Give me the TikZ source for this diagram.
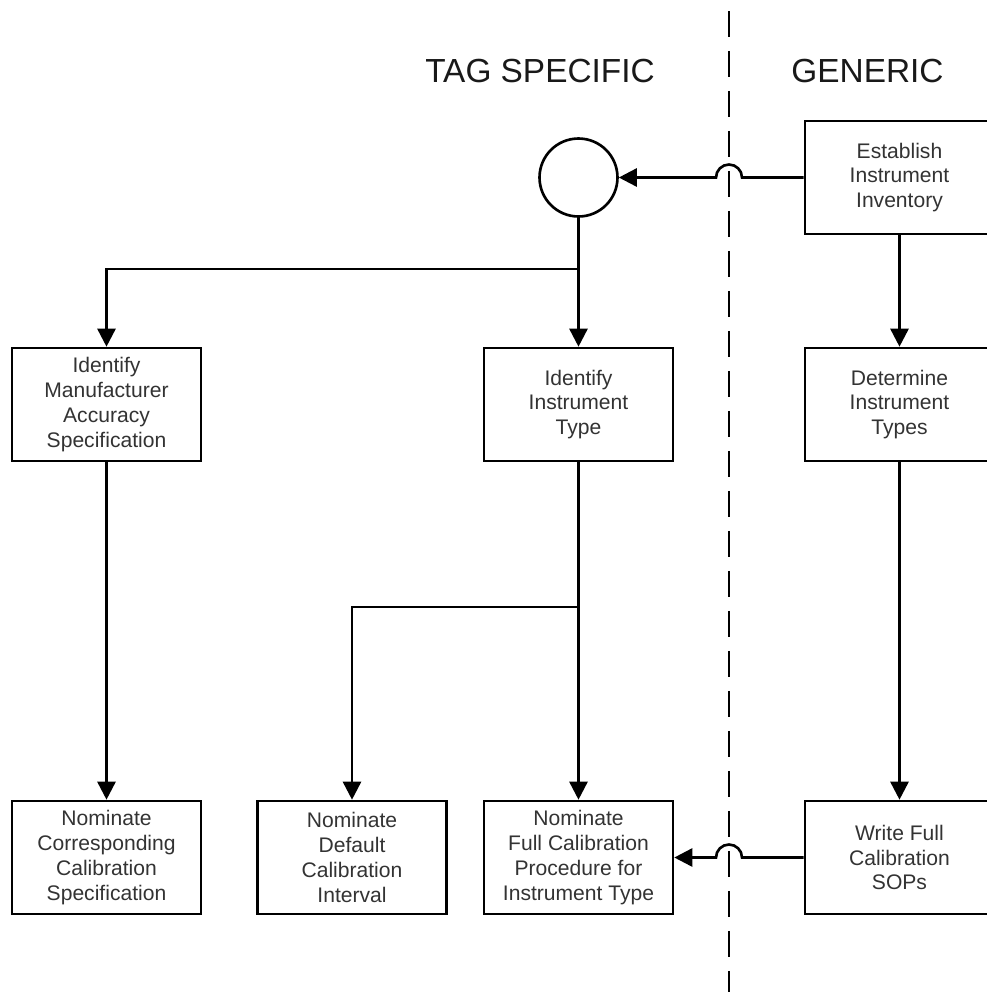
\documentclass[tikz,border=0pt]{standalone}
\usepackage{fontspec}
\setmainfont{Liberation Sans}
\usepackage{xcolor}
\usepackage{tikz}
\usetikzlibrary{arrows.meta}

\begin{document}
\begin{tikzpicture}[
    x=0.02cm, y=-0.02cm,
    box/.style={rectangle, draw, line width=1.5pt, minimum width=3.78cm, minimum height=2.26cm, align=center, inner sep=2pt, text=black!80, font=\fontsize{12}{14.2}\selectfont},
    arrow/.style={-{Triangle[length=0.36cm, width=0.36cm]}, line width=1.5pt},
    link/.style={line width=1.5pt},
    hub/.style={circle, draw, line width=1.5pt, minimum size=1.56cm, inner sep=0pt},
    heading/.style={font=\fontsize{19}{22}\selectfont, text=black!90},
    divider/.style={line width=1.1pt, dash pattern=on 0.52cm off 0.28cm, dash phase=0.58cm}
]
    \useasboundingbox (0,0) rectangle (987,992);
    \clip (0,0) rectangle (987,992);

    \node[heading, anchor=base] (tag) at (540,82) {TAG SPECIFIC};
    \node[heading, anchor=base] (gen) at (867.5,82) {GENERIC};

    \coordinate (divtop) at (729,0);
    \coordinate (divbot) at (729,992);
    \draw[divider] (divtop) -- (divbot);

    \node[hub] (hub) at (578.5,177.5) {};
    \node[box] (est) at (899.5,177.5) {Establish\\Instrument\\Inventory};
    \node[box] (idman) at (106.5,404.5) {Identify\\Manufacturer\\Accuracy\\Specification};
    \node[box] (idtype) at (578.5,404.5) {Identify\\Instrument\\Type};
    \node[box] (dettype) at (899.5,404.5) {Determine\\Instrument\\Types};
    \node[box] (nomcorr) at (106.5,857.5) {Nominate\\Corresponding\\Calibration\\Specification};
    \node[box] (nomdef) at (352,857.5) {Nominate\\Default\\Calibration\\Interval};
    \node[box] (nomfull) at (578.5,857.5) {Nominate\\Full Calibration\\Procedure for\\Instrument Type};
    \node[box] (writesop) at (899.5,857.5) {Write Full\\Calibration\\SOPs};

    \coordinate (split1) at (578.5,269);
    \coordinate (split2) at (578.5,607);
    \coordinate (hop1) at (742,177.5);
    \coordinate (hop2) at (742,857.5);

    \draw[arrow] (est.west) -- (hop1) arc[start angle=0, end angle=180, radius=0.26cm] -- (hub.east);
    \draw[link] (hub.south) -- (split1);
    \draw[arrow] (split1) -| (idman.north);
    \draw[arrow] (split1) -- (idtype.north);
    \draw[arrow] (est) -- (dettype);
    \draw[arrow] (idman) -- (nomcorr);
    \draw[link] (idtype.south) -- (split2);
    \draw[arrow] (split2) -| (nomdef.north);
    \draw[arrow] (split2) -- (nomfull.north);
    \draw[arrow] (dettype) -- (writesop);
    \draw[arrow] (writesop.west) -- (hop2) arc[start angle=0, end angle=180, radius=0.26cm] -- (nomfull.east);
\end{tikzpicture}
\end{document}
